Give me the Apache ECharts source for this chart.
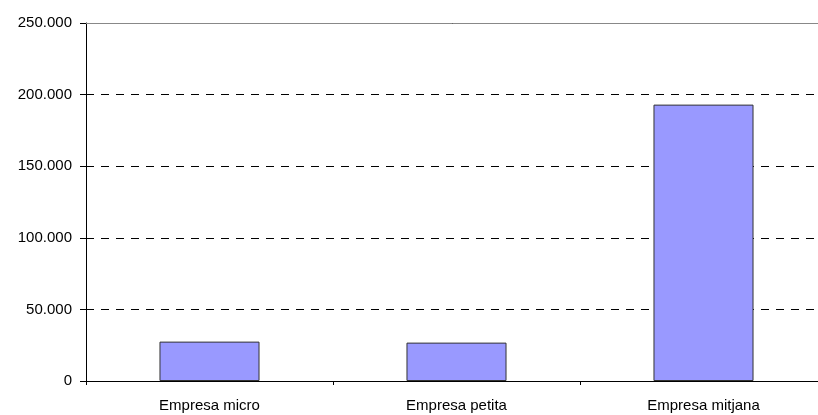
<!DOCTYPE html>
<html>
<head>
<meta charset="utf-8">
<script src="https://cdn.jsdelivr.net/npm/echarts@6/dist/echarts.min.js"></script>
<style>
  html, body { margin: 0; padding: 0; background: #fff; }
  #chart { width: 818px; height: 415px; }
</style>
</head>
<body>
<div id="chart"></div>
<script>
// Companies by size
const categories = ['Empresa micro', 'Empresa petita', 'Empresa mitjana'];
const values = [27500, 26800, 193000];
const yMax = 250000;
const yStep = 50000;

function fmtThousands(v) {
  return String(v).replace(/\B(?=(\d{3})+(?!\d))/g, '.');
}

const chart = echarts.init(document.getElementById('chart'), null, { renderer: 'canvas' });
chart.setOption({
  animation: false,
  backgroundColor: '#ffffff',
  textStyle: { fontFamily: 'Liberation Sans, Arial, sans-serif' },
  // plot area runs slightly past the right edge of the canvas
  grid: { left: 86, width: 741, top: 23, bottom: 34, containLabel: false, outerBoundsMode: 'none' },
  xAxis: {
    type: 'category',
    data: categories,
    boundaryGap: true,
    axisLine: { lineStyle: { color: '#000', width: 1 } },
    axisTick: { show: true, length: 4, lineStyle: { color: '#000' } },
    axisLabel: { color: '#000', fontSize: 15, margin: 17 }
  },
  yAxis: {
    type: 'value',
    min: 0,
    max: yMax,
    interval: yStep,
    axisLine: { show: true, lineStyle: { color: '#000', width: 1 } },
    axisTick: { show: true, length: 6, lineStyle: { color: '#000' } },
    axisLabel: { color: '#000', fontSize: 15, margin: 14, formatter: fmtThousands },
    splitLine: { show: true, lineStyle: { color: '#000', type: [8, 7], width: 1 } }
  },
  series: [{
    type: 'bar',
    data: values,
    barWidth: '40.5%',
    itemStyle: { color: '#9999ff', borderColor: '#333', borderWidth: 1 },
    markLine: {
      silent: true,
      symbol: 'none',
      label: { show: false },
      lineStyle: { color: '#888', type: 'solid', width: 1 },
      data: [{ yAxis: yMax }]
    }
  }]
});
</script>
</body>
</html>
